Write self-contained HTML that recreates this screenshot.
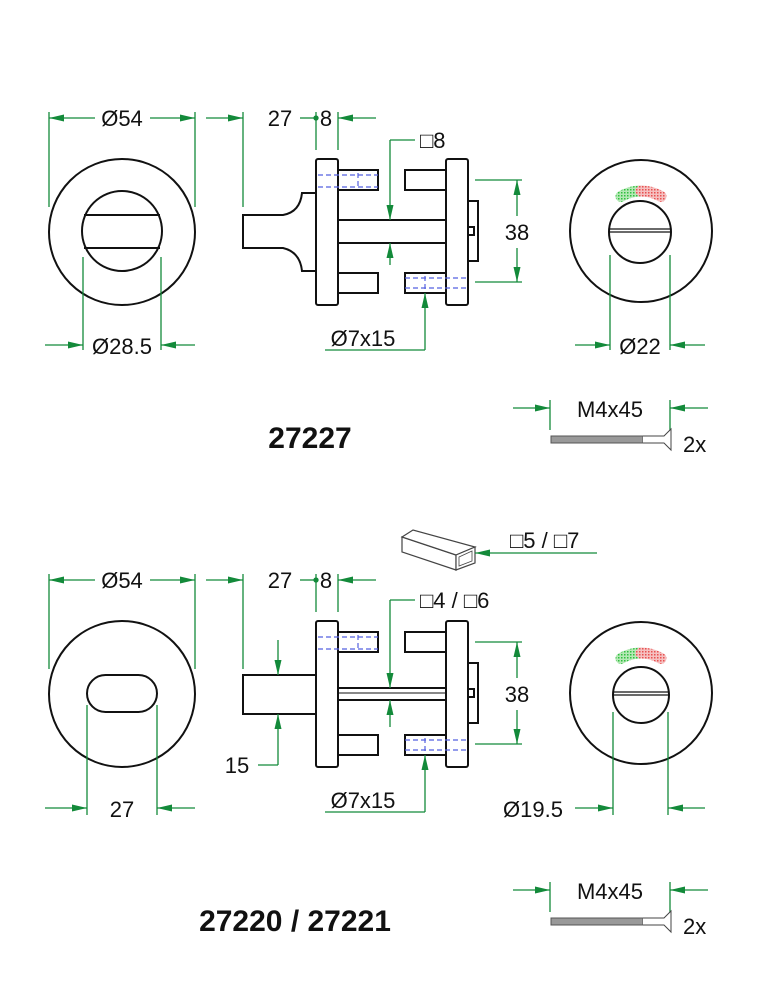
<!DOCTYPE html>
<html><head><meta charset="utf-8"><style>
html,body{margin:0;padding:0;background:#fff;}
svg{display:block;}
text{font-family:"Liberation Sans",Arial,sans-serif;fill:#111;}
</style></head><body>
<svg width="762" height="1000" viewBox="0 0 762 1000" xmlns="http://www.w3.org/2000/svg">
<defs>
<marker id="a" markerUnits="userSpaceOnUse" markerWidth="16" markerHeight="10" refX="15" refY="5" orient="auto"><path d="M0,1.5 L15,5 L0,8.5 Z" fill="#138a3a"/></marker>
<pattern id="pg" width="3" height="3" patternUnits="userSpaceOnUse"><rect width="3" height="3" fill="#b5e8b5"/><rect width="1.5" height="1.5" fill="#2fbf3f"/></pattern>
<pattern id="pr" width="3" height="3" patternUnits="userSpaceOnUse"><rect width="3" height="3" fill="#f5c0c0"/><rect width="1.5" height="1.5" fill="#e85050"/></pattern>
<g id="body" fill="#fff" stroke="#111" stroke-width="2">
  <rect x="338" y="170" width="40" height="20"/>
  <rect x="338" y="273" width="40" height="20"/>
  <rect x="405" y="170" width="41" height="20"/>
  <rect x="405" y="273" width="41" height="20"/>
  <rect x="468" y="201" width="10" height="60"/>
  <path d="M468,227 L474,227 L474,235 L468,235" fill="none"/>
  <rect x="316" y="159" width="22" height="146" rx="2"/>
  <rect x="446" y="159" width="22" height="146" rx="2"/>
  <g stroke="#5560e0" stroke-width="1.2" stroke-dasharray="5,3" fill="none">
    <line x1="318" y1="175" x2="378" y2="175"/><line x1="318" y1="187" x2="378" y2="187"/>
    <line x1="358" y1="173" x2="358" y2="189"/>
    <line x1="405" y1="278" x2="466" y2="278"/><line x1="405" y1="288" x2="466" y2="288"/>
    <line x1="425" y1="276" x2="425" y2="290"/>
  </g>
</g>
<g id="rose">
  <circle cx="641" cy="231" r="71" fill="none" stroke="#111" stroke-width="2"/>
  <path d="M621,196.4 A40,40 0 0 1 641,191" fill="none" stroke="url(#pg)" stroke-width="11" stroke-linecap="round"/>
  <path d="M641,191 A40,40 0 0 1 661,196.4" fill="none" stroke="url(#pr)" stroke-width="11" stroke-linecap="round"/>
</g>
<g id="dims" stroke="#138a3a" stroke-width="1.3" fill="none">
  <line x1="49" y1="112" x2="49" y2="207"/><line x1="195" y1="112" x2="195" y2="207"/>
  <line x1="95" y1="118" x2="49" y2="118" marker-end="url(#a)"/>
  <line x1="150" y1="118" x2="195" y2="118" marker-end="url(#a)"/>
  <line x1="243" y1="112" x2="243" y2="207"/>
  <line x1="206" y1="118" x2="243" y2="118" marker-end="url(#a)"/>
  <line x1="300" y1="118" x2="316" y2="118"/>
  <circle cx="316" cy="118" r="2" fill="#138a3a"/>
  <line x1="316" y1="112" x2="316" y2="150"/><line x1="338" y1="112" x2="338" y2="150"/>
  <line x1="376" y1="118" x2="338" y2="118" marker-end="url(#a)"/>
  <line x1="475" y1="180" x2="522" y2="180"/><line x1="475" y1="282" x2="522" y2="282"/>
  <line x1="517" y1="216" x2="517" y2="180" marker-end="url(#a)"/>
  <line x1="517" y1="248" x2="517" y2="282" marker-end="url(#a)"/>
  <line x1="425" y1="350" x2="425" y2="293" marker-end="url(#a)"/>
  <line x1="325" y1="350" x2="425" y2="350"/>
</g>
<g id="screw">
  <g stroke="#138a3a" stroke-width="1.3" fill="none">
    <line x1="550" y1="400" x2="550" y2="430"/><line x1="670" y1="400" x2="670" y2="430"/>
    <line x1="513" y1="408" x2="550" y2="408" marker-end="url(#a)"/>
    <line x1="708" y1="408" x2="670" y2="408" marker-end="url(#a)"/>
  </g>
  <rect x="551" y="436" width="92" height="7" fill="#999" stroke="#555" stroke-width="1"/>
  <path d="M643,436 L664,436 L671,429 L671,450 L664,443 L643,443" fill="#fff" stroke="#444" stroke-width="1"/>
  <text x="683" y="452" font-size="22">2x</text>
  <text x="610" y="417" font-size="22" text-anchor="middle">M4x45</text>
</g>
</defs>

<!-- TOP -->
<circle cx="122" cy="232" r="73" fill="none" stroke="#111" stroke-width="2"/>
<circle cx="122" cy="231" r="40" fill="none" stroke="#111" stroke-width="2"/>
<line x1="84" y1="215" x2="160" y2="215" stroke="#111" stroke-width="2"/>
<line x1="84" y1="248" x2="160" y2="248" stroke="#111" stroke-width="2"/>
<path d="M243,215 L283,215 Q300,212 302,193 L316,193 L316,271 L302,271 Q300,252 283,248 L243,248 Z" fill="#fff" stroke="#111" stroke-width="2"/>
<rect x="338" y="220" width="108" height="23" fill="#fff" stroke="#111" stroke-width="2"/>
<use href="#body"/>
<use href="#rose"/>
<circle cx="640" cy="232" r="31" fill="none" stroke="#111" stroke-width="2"/>
<line x1="610" y1="229" x2="670" y2="229" stroke="#111" stroke-width="1.3"/>
<line x1="610" y1="232" x2="670" y2="232" stroke="#111" stroke-width="1.3"/>
<use href="#dims"/>
<g stroke="#138a3a" stroke-width="1.3" fill="none">
  <line x1="83" y1="257" x2="83" y2="350"/><line x1="161" y1="257" x2="161" y2="350"/>
  <line x1="45" y1="345" x2="83" y2="345" marker-end="url(#a)"/>
  <line x1="195" y1="345" x2="161" y2="345" marker-end="url(#a)"/>
  <line x1="415" y1="140" x2="390" y2="140"/>
  <line x1="390" y1="140" x2="390" y2="220" marker-end="url(#a)"/>
  <line x1="390" y1="265" x2="390" y2="243" marker-end="url(#a)"/>
  <line x1="610" y1="255" x2="610" y2="350"/><line x1="670" y1="255" x2="670" y2="350"/>
  <line x1="575" y1="345" x2="610" y2="345" marker-end="url(#a)"/>
  <line x1="705" y1="345" x2="670" y2="345" marker-end="url(#a)"/>
</g>
<g font-size="22">
<text x="122" y="126" text-anchor="middle">Ø54</text>
<text x="280" y="126" text-anchor="middle">27</text>
<text x="326" y="126" text-anchor="middle">8</text>
<text x="420" y="148">□8</text>
<text x="517" y="240" text-anchor="middle">38</text>
<text x="122" y="354" text-anchor="middle">Ø28.5</text>
<text x="363" y="346" text-anchor="middle">Ø7x15</text>
<text x="640" y="354" text-anchor="middle">Ø22</text>
</g>
<use href="#screw"/>
<text x="310" y="448" font-size="30" font-weight="bold" text-anchor="middle">27227</text>

<!-- BOTTOM -->
<g transform="translate(0,462)">
<circle cx="122" cy="232" r="73" fill="none" stroke="#111" stroke-width="2"/>
<rect x="87" y="213" width="70" height="37" rx="18.5" fill="none" stroke="#111" stroke-width="2"/>
<rect x="243" y="213" width="73" height="39" fill="#fff" stroke="#111" stroke-width="2"/>
<rect x="338" y="226" width="108" height="12" fill="#fff" stroke="#111" stroke-width="2"/>
<line x1="338" y1="231" x2="446" y2="231" stroke="#111" stroke-width="1"/>
<use href="#body"/>
<use href="#rose"/>
<circle cx="641" cy="233" r="28" fill="none" stroke="#111" stroke-width="2"/>
<line x1="613" y1="230" x2="669" y2="230" stroke="#111" stroke-width="1.3"/>
<line x1="613" y1="233" x2="669" y2="233" stroke="#111" stroke-width="1.3"/>
<use href="#dims"/>
<g stroke="#138a3a" stroke-width="1.3" fill="none">
  <line x1="87" y1="243" x2="87" y2="353"/><line x1="157" y1="243" x2="157" y2="353"/>
  <line x1="45" y1="346" x2="87" y2="346" marker-end="url(#a)"/>
  <line x1="195" y1="346" x2="157" y2="346" marker-end="url(#a)"/>
  <line x1="278" y1="178" x2="278" y2="213" marker-end="url(#a)"/>
  <line x1="278" y1="288" x2="278" y2="252" marker-end="url(#a)"/>
  <line x1="258" y1="303" x2="278" y2="303"/><line x1="278" y1="303" x2="278" y2="288"/>
  <line x1="415" y1="138" x2="390" y2="138"/>
  <line x1="390" y1="138" x2="390" y2="226" marker-end="url(#a)"/>
  <line x1="390" y1="265" x2="390" y2="238" marker-end="url(#a)"/>
  <line x1="613" y1="250" x2="613" y2="353"/><line x1="668" y1="250" x2="668" y2="353"/>
  <line x1="575" y1="346" x2="613" y2="346" marker-end="url(#a)"/>
  <line x1="705" y1="346" x2="668" y2="346" marker-end="url(#a)"/>
</g>
<g font-size="22">
<text x="122" y="126" text-anchor="middle">Ø54</text>
<text x="280" y="126" text-anchor="middle">27</text>
<text x="326" y="126" text-anchor="middle">8</text>
<text x="420" y="146">□4 / □6</text>
<text x="517" y="240" text-anchor="middle">38</text>
<text x="122" y="355" text-anchor="middle">27</text>
<text x="237" y="311" text-anchor="middle">15</text>
<text x="363" y="346" text-anchor="middle">Ø7x15</text>
<text x="533" y="355" text-anchor="middle">Ø19.5</text>
</g>
</g>
<!-- tube -->
<g fill="#fff" stroke="#444" stroke-width="1.2">
  <path d="M402,537 L456,555 L456,570 L402,552 Z"/>
  <path d="M402,537 L413,530 L475,547 L456,555 Z"/>
  <path d="M456,555 L475,547 L475,563 L456,570 Z"/>
  <path d="M459,557 L472,551 L472,561 L459,566 Z" fill="none" stroke-width="0.8"/>
</g>
<line x1="597" y1="553" x2="475" y2="553" stroke="#138a3a" stroke-width="1.3" marker-end="url(#a)"/>
<text x="510" y="548" font-size="22">□5 / □7</text>
<g transform="translate(0,482)"><use href="#screw"/></g>
<text x="295" y="931" font-size="30" font-weight="bold" text-anchor="middle">27220 / 27221</text>
</svg>
</body></html>
